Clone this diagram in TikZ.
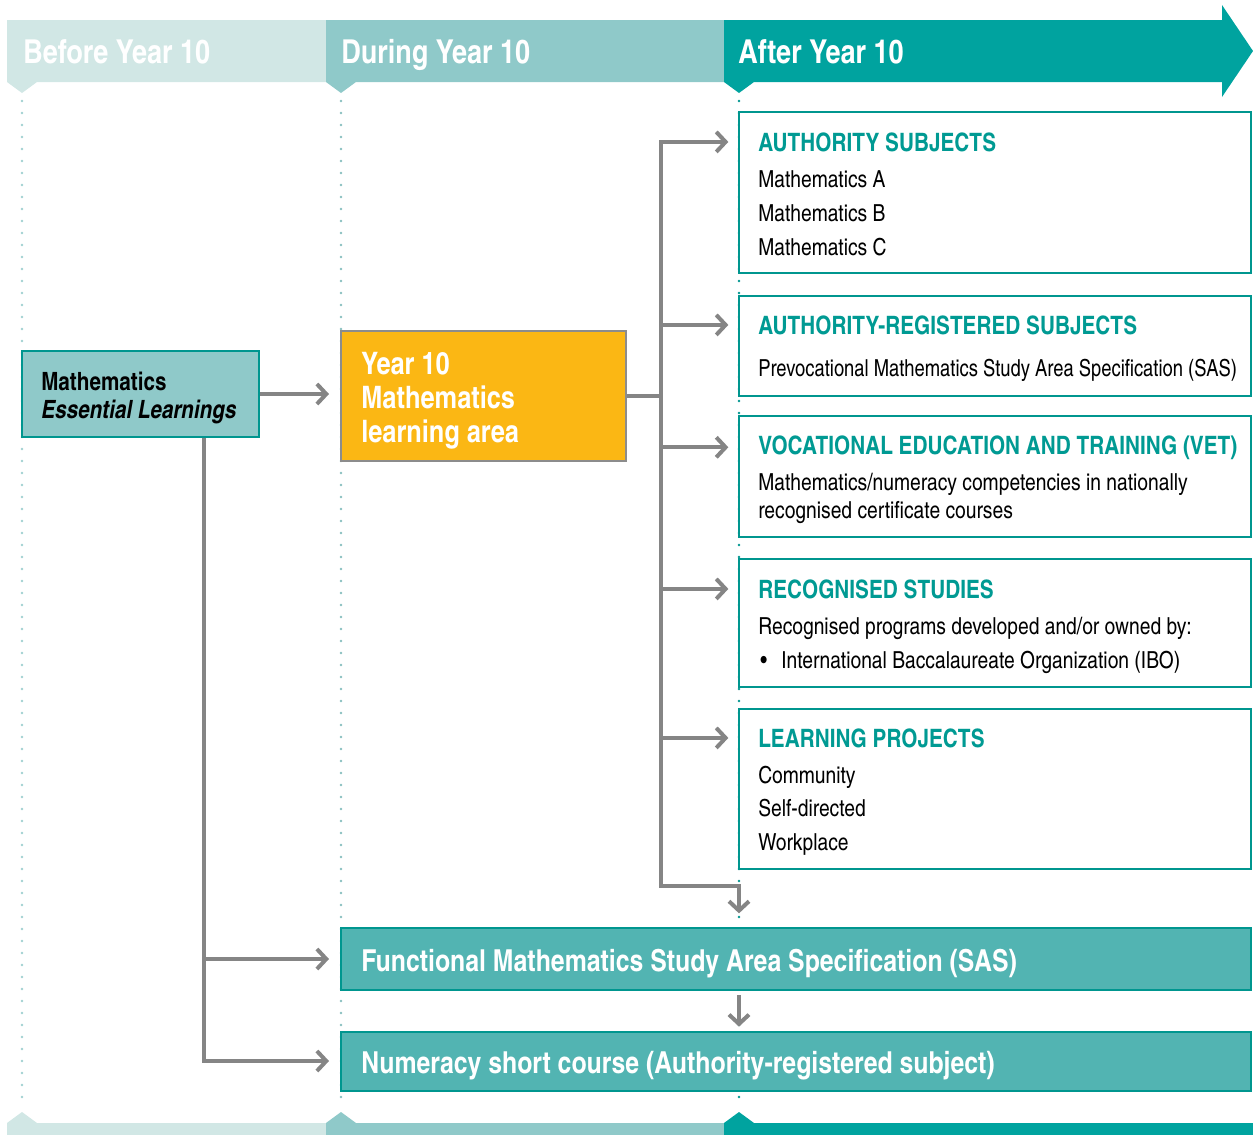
\documentclass[tikz,border=0pt]{standalone}
\usepackage{fontspec}
\setmainfont{texgyreheroscn}[Extension=.otf,UprightFont=*-regular,BoldFont=*-bold,ItalicFont=*-italic,BoldItalicFont=*-bolditalic]
\usetikzlibrary{arrows.meta,fit}

\definecolor{teallt}{HTML}{D1E7E5}
\definecolor{tealmd}{HTML}{8FC9C9}
\definecolor{tealdk}{HTML}{00A39F}
\definecolor{tealbd}{HTML}{00968F}
\definecolor{tealtx}{HTML}{009A93}
\definecolor{tealfn}{HTML}{52B4B2}
\definecolor{ylw}{HTML}{FBB714}
\definecolor{ybord}{HTML}{8C8C8C}
\definecolor{lineg}{HTML}{858585}

\tikzset{
  >={Straight Barb[length=7pt,width=15pt]},
  line/.style={draw=lineg, line width=3pt},
  conn/.style={line, ->, shorten >=7pt},
  box/.style={inner sep=0pt, line width=2pt},
  rbox/.style={box, draw=tealbd, fill=white},
  hd/.style={anchor=base west, inner sep=0pt, text=tealtx, font=\fontsize{19}{23}\selectfont\bfseries},
  tx/.style={anchor=base west, inner sep=0pt, font=\fontsize{17.6}{21}\selectfont},
  band/.style={anchor=base west, inner sep=0pt, text=white, font=\fontsize{24.7}{28}\selectfont\bfseries},
  bandtx/.style={anchor=base west, inner sep=0pt, text=white, font=\fontsize{22.7}{26}\selectfont\bfseries},
  mltx/.style={anchor=base west, inner sep=0pt, font=\fontsize{18.9}{22}\selectfont\bfseries},
  yrtx/.style={anchor=base west, inner sep=0pt, text=white, font=\fontsize{23.2}{27}\selectfont\bfseries},
  dots/.style={line width=2.2pt, line cap=round, dash pattern=on 0pt off 9pt},
}

\begin{document}
\begin{tikzpicture}[x=0.75pt,y=-0.75pt]
\useasboundingbox (0,0) rectangle (1253,1135);

% time bands, top and bottom
\fill[teallt] (7,20) -- (327,20) -- (327,82) -- (37,82) -- (22,93) -- (7,82) -- cycle;
\fill[tealmd] (326,20) -- (725,20) -- (725,82) -- (356,82) -- (341,93) -- (326,82) -- cycle;
\fill[tealdk] (724,20) -- (1222,20) -- (1222,5) -- (1253,51) -- (1222,97) -- (1222,82) -- (754,82) -- (739,93) -- (724,82) -- cycle;
\fill[teallt] (7,1135) -- (7,1123) -- (22,1112) -- (37,1123) -- (327,1123) -- (327,1135) -- cycle;
\fill[tealmd] (326,1135) -- (326,1123) -- (341,1112) -- (356,1123) -- (725,1123) -- (725,1135) -- cycle;
\fill[tealdk] (724,1135) -- (724,1123) -- (739,1112) -- (754,1123) -- (1253,1123) -- (1253,1135) -- cycle;
\draw[dots, draw=tealmd!85] (22,101) -- (22,1105);
\draw[dots, draw=tealmd!95!black] (341,101) -- (341,1105);
\draw[dots, draw=tealbd] (739,101) -- (739,1105);
\node[band] (before) at (23,63) {Before Year 10};
\node[band] (during) at (341,63) {During Year 10};
\node[band] (after) at (738,63) {After Year 10};

% left and middle boxes
\node[box, draw=tealbd, fill=tealmd, fit={(22,351) (259,437)}] (ml) {};
\node[mltx] (ml-0) at (41,390) {Mathematics};
\node[mltx] (ml-1) at (41,418) {\itshape Essential Learnings};
\node[box, draw=ybord, fill=ylw, fit={(341,331) (626,461)}] (yr) {};
\node[yrtx] (yr-0) at (361,374) {Year 10};
\node[yrtx] (yr-1) at (361,408) {Mathematics};
\node[yrtx] (yr-2) at (361,442) {learning area};

% after year 10
\node[rbox, fit={(739,112) (1251,273)}] (auth) {};
\node[hd] (auth-t) at (758,151) {AUTHORITY SUBJECTS};
\foreach \t [count=\i from 0] in {Mathematics A,Mathematics B,Mathematics C}
  \node[tx] (auth-\i) at (758,{187+34*\i}) {\t};

\node[rbox, fit={(739,296) (1251,396)}] (areg) {};
\node[hd] (areg-t) at (758,334) {AUTHORITY-REGISTERED SUBJECTS};
\node[tx] (areg-0) at (758,376) {\scalebox{0.955}[1]{Prevocational Mathematics Study Area Specification (SAS)}};

\node[rbox, fit={(739,416) (1251,537)}] (vet) {};
\node[hd] (vet-t) at (758,454) {VOCATIONAL EDUCATION AND TRAINING (VET)};
\node[tx] (vet-0) at (758,490) {Mathematics/numeracy competencies in nationally};
\node[tx] (vet-1) at (758,518) {recognised certificate courses};

\node[rbox, fit={(739,559) (1251,687)}] (rec) {};
\node[hd] (rec-t) at (758,598) {RECOGNISED STUDIES};
\node[tx] (rec-0) at (758,634) {Recognised programs developed and/or owned by:};
\node[tx] (rec-1) at (760,668) {\makebox[15.75pt][l]{\textbullet}International Baccalaureate Organization (IBO)};

\node[rbox, fit={(739,709) (1251,869)}] (lp) {};
\node[hd] (lp-t) at (758,747) {LEARNING PROJECTS};
\foreach \t [count=\i from 0] in {Community,Self-directed,Workplace}
  \node[tx] (lp-\i) at (758,{783+33.5*\i}) {\t};

\node[box, draw=tealbd, fill=tealfn, fit={(341,928) (1251,990)}] (func) {};
\node[bandtx] (func-t) at (361,971) {Functional Mathematics Study Area Specification (SAS)};
\node[box, draw=tealbd, fill=tealfn, fit={(341,1032) (1251,1091)}] (num) {};
\node[bandtx] (num-t) at (361,1073) {Numeracy short course (Authority-registered subject)};

% connectors
\coordinate (tk) at (661,396);
\coordinate (bend) at (739,886);
\coordinate (lv) at (204,1061);
\draw[conn, shorten >=8pt] (ml.east) -- (ml.east -| yr.west);
\draw[line] (yr.east) -- (yr.east -| tk);
\draw[conn, <->, shorten <=7pt, shorten >=10pt] (auth-t -| auth.west) -- (tk |- auth-t)
  -- (tk |- bend) -- (bend) -- (bend |- func.north);
\foreach \b in {areg,vet,rec,lp}
  \draw[conn] (tk |- \b-t) -- (\b-t -| \b.west);
\draw[conn, shorten >=8pt] (ml.south -| lv) -- (lv) -- (lv -| num.west);
\draw[conn, shorten >=8pt] (lv |- func) -- (func.west);
\draw[conn, shorten <=3pt, shorten >=3pt] (func.south -| bend) -- (num.north -| bend);
\end{tikzpicture}
\end{document}
